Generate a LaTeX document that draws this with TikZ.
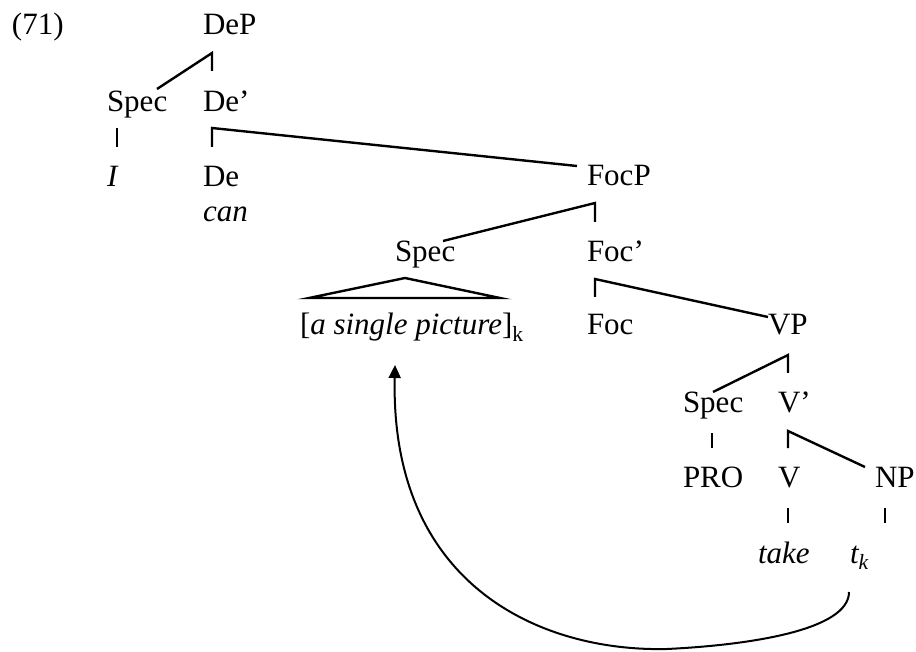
\documentclass[tikz,border=0pt]{standalone}
\usepackage{fontspec}
\setmainfont{Liberation Serif}
\usetikzlibrary{arrows.meta}
\tikzset{
  lbl/.style={anchor=base west, inner sep=0pt, outer sep=0pt, font=\fontsize{31}{37}\selectfont},
  br/.style={line width=2.4pt, line cap=butt, line join=miter},
  mv/.style={line width=2pt, -{Triangle[length=13pt,width=12pt]}}
}
\begin{document}
\begin{tikzpicture}[x=1pt,y=-1pt]
\useasboundingbox (0,0) rectangle (916,652);
% labels
\node[lbl] (n71) at (12,35) {(71)};
\node[lbl] (DeP) at (203,35) {DeP};
\node[lbl] (SpecA) at (107,112) {Spec};
\node[lbl] (Debar) at (203,112) {De’};
\node[lbl] (I) at (107,187) {\itshape I};
\node[lbl] (De) at (203,187) {De};
\node[lbl] (can) at (203,222) {\itshape can};
\node[lbl] (FocP) at (587,186) {FocP};
\node[lbl] (SpecB) at (395,262) {Spec};
\node[lbl] (Focbar) at (587,262) {Foc’};
\node[lbl] (phrase) at (300,335) {[\textit{a single picture}]\textsubscript{k}};
\node[lbl] (Foc) at (587,335) {Foc};
\node[lbl] (VP) at (768,335) {VP};
\node[lbl] (SpecC) at (683,412) {Spec};
\node[lbl] (Vbar) at (778,412) {V’};
\node[lbl] (PRO) at (683,487) {PRO};
\node[lbl] (V) at (778,487) {V};
\node[lbl] (NP) at (875,487) {NP};
\node[lbl] (take) at (758,563) {\itshape take};
\node[lbl] (tk) at (850,563) {\itshape t\textsubscript{k}};
% branch points
\coordinate (dep c) at (212,53);
\coordinate (dep v) at (212,71);
\coordinate (dep l) at (157,89);
\coordinate (specA a) at (117,128);
\coordinate (specA b) at (117,147);
\coordinate (debar c) at (212,128);
\coordinate (debar v) at (212,147);
\coordinate (debar r) at (577,166);
\coordinate (focp c) at (595,203);
\coordinate (focp v) at (595,222);
\coordinate (focp l) at (443,241);
\coordinate (tri top) at (405,278);
\coordinate (tri l) at (309,298);
\coordinate (tri r) at (500,298);
\coordinate (focbar c) at (595,279);
\coordinate (focbar v) at (595,297);
\coordinate (focbar r) at (768,317);
\coordinate (vp c) at (788,355);
\coordinate (vp v) at (788,373);
\coordinate (vp l) at (713,392);
\coordinate (specC a) at (712,433);
\coordinate (specC b) at (712,448);
\coordinate (vbar c) at (788,431);
\coordinate (vbar v) at (788,448);
\coordinate (vbar r) at (865,467);
\coordinate (v a) at (788,508);
\coordinate (v b) at (788,523);
\coordinate (np a) at (885,508);
\coordinate (np b) at (885,523);
\coordinate (mv s) at (849,592);
\coordinate (mv m) at (667,649);
\coordinate (mv t) at (395,365);
% branches
\draw[br] (dep l) -- (dep c) -- (dep v);
\draw[br] (specA a) -- (specA b);
\draw[br] (debar v) -- (debar c) -- (debar r);
\draw[br] (focp l) -- (focp c) -- (focp v);
\draw[br] (tri l) -- (tri top) -- (tri r) -- cycle;
\draw[br] (focbar v) -- (focbar c) -- (focbar r);
\draw[br] (vp l) -- (vp c) -- (vp v);
\draw[br] (specC a) -- (specC b);
\draw[br] (vbar v) -- (vbar c) -- (vbar r);
\draw[br] (v a) -- (v b);
\draw[br] (np a) -- (np b);
% movement arrow
\draw[mv] (mv s) .. controls (849,630) and (750,645) .. (mv m)
  .. controls (540,652) and (390,585) .. (mv t);
\end{tikzpicture}
\end{document}
